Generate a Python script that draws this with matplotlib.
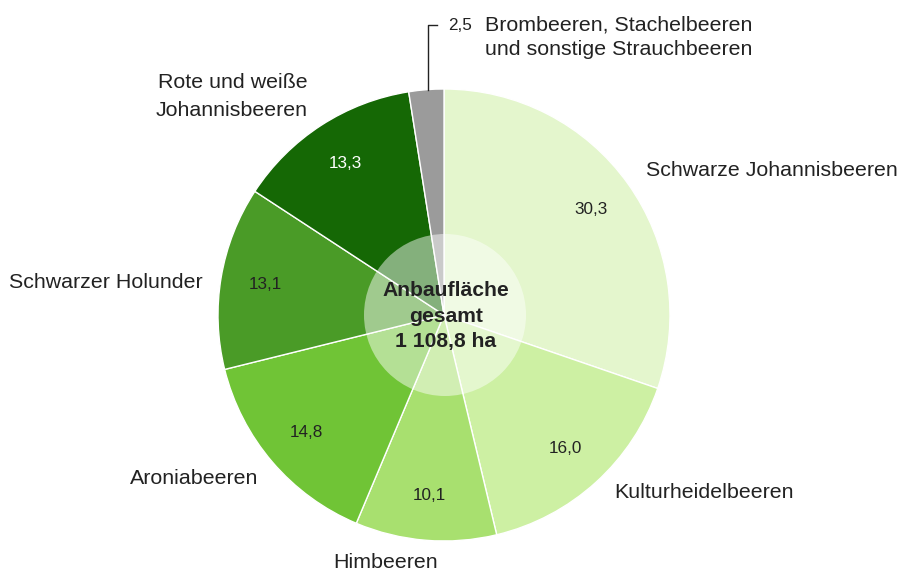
import matplotlib
matplotlib.use("Agg")
import matplotlib.pyplot as plt
from matplotlib.patches import Circle
import numpy as np

plt.rcParams['font.family'] = ['Liberation Sans', 'DejaVu Sans']

categories = ["Schwarze Johannisbeeren", "Kulturheidelbeeren", "Himbeeren",
              "Aroniabeeren", "Schwarzer Holunder", "Rote und weiße\nJohannisbeeren",
              "Brombeeren, Stachelbeeren\nund sonstige Strauchbeeren"]
values = [30.3, 16.0, 10.1, 14.8, 13.1, 13.3, 2.5]
value_labels = ["30,3", "16,0", "10,1", "14,8", "13,1", "13,3", "2,5"]
colors = ["#e4f6cd", "#cdf0a3", "#a8e06f", "#70c436", "#4a9b27", "#156805", "#9b9b9b"]
value_colors = ["#222222", "#222222", "#222222", "#222222", "#222222", "#ffffff", "#222222"]
center_text = "Anbaufläche\ngesamt\n1 108,8 ha"

W, H = 899, 572
fig = plt.figure(figsize=(W / 100, H / 100), dpi=100)
ax = fig.add_axes([0, 0, 1, 1])

cx, cy, R = 444, H - 315, 226
wedges, _ = ax.pie(values, colors=colors, startangle=90, counterclock=False,
                   center=(cx, cy), radius=R, frame=True,
                   wedgeprops=dict(edgecolor='white', linewidth=1.0))
ax.set_xlim(0, W)
ax.set_ylim(0, H)
ax.axis('off')

# value labels inside wedges (except the small one)
for i, w in enumerate(wedges[:-1]):
    ang = np.deg2rad((w.theta1 + w.theta2) / 2)
    x = cx + 0.8 * R * np.cos(ang)
    y = cy + 0.8 * R * np.sin(ang)
    ax.text(x, y, value_labels[i], ha='center', va='center', fontsize=12.3,
            color=value_colors[i])

# inner translucent circle
ax.add_patch(Circle((cx + 1, cy), 81, facecolor='white', alpha=0.48,
                    edgecolor='none', zorder=5))
ax.text(cx + 2, cy - 1, center_text, ha='center', va='center', fontsize=15.2,
        fontweight='bold', color='#222222', zorder=6, linespacing=1.42)

# outer labels
tc = '#222222'
fs = 15.4
ax.text(646, H - 170, categories[0], ha='left', va='center', fontsize=fs, color=tc)
ax.text(614, H - 492, categories[1], ha='left', va='center', fontsize=fs, color=tc)
ax.text(386, H - 562, categories[2], ha='center', va='center', fontsize=fs, color=tc)
ax.text(258, H - 478, categories[3], ha='right', va='center', fontsize=fs, color=tc)
ax.text(203, H - 283, categories[4], ha='right', va='center', fontsize=fs, color=tc)
ax.text(308, H - 96, categories[5], ha='right', va='center', fontsize=fs, color=tc,
        linespacing=1.6)

# small wedge leader and labels
g = wedges[-1]
gang = np.deg2rad((g.theta1 + g.theta2) / 2)
gx = cx + R * np.cos(gang) + 2
gy = cy + R * np.sin(gang)
ax.plot([gx, gx, gx + 9], [gy, H - 25, H - 25], color='#222222', lw=1)
ax.text(448, H - 25, value_labels[-1], ha='left', va='center', fontsize=12.3, color=tc)
ax.text(485, H - 37.5, categories[6], ha='left', va='center', fontsize=fs, color=tc,
        linespacing=1.36)

fig.savefig("out.png", dpi=100)
